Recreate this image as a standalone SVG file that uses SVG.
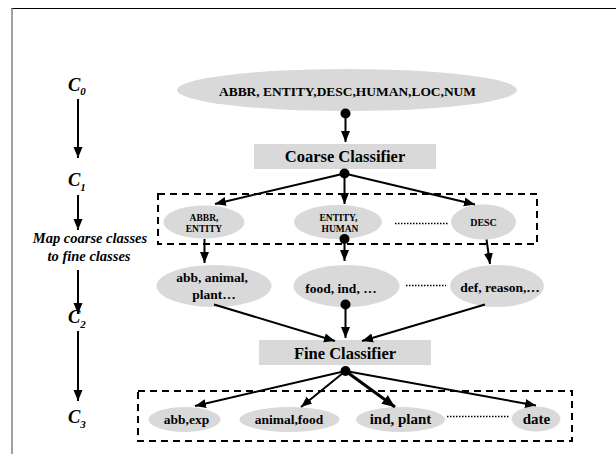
<svg xmlns="http://www.w3.org/2000/svg" width="616" height="454" viewBox="0 0 616 454">
<defs>
<marker id="ah" markerUnits="userSpaceOnUse" markerWidth="12" markerHeight="12" viewBox="0 0 12 12" refX="11" refY="6" orient="auto">
<path d="M0,1.5 L11,6 L0,10.5 Z" fill="#000"/>
</marker>
<marker id="ahL" markerUnits="userSpaceOnUse" markerWidth="14" markerHeight="14" viewBox="0 0 14 14" refX="13" refY="7" orient="auto">
<path d="M0,1.5 L13,7 L0,12.5 Z" fill="#000"/>
</marker>
</defs>
<style>
.el{fill:#d9d9d9;stroke:none}
.bx{fill:#d9d9d9;stroke:none}
text{font-family:'Liberation Serif','Times New Roman',serif}
.t{font-weight:bold;fill:#000;text-anchor:middle}
.ti{font-weight:bold;font-style:italic;fill:#000;text-anchor:middle}
.cs{font-weight:bold;font-style:italic;fill:#000;font-size:18.5px}
.c{stroke:#000;stroke-width:2;fill:none;marker-end:url(#ah)}
.dash{fill:none;stroke:#000;stroke-width:2;stroke-dasharray:7,5}
.dot{stroke:#000;stroke-width:1.5;stroke-dasharray:1.5,1.5;fill:none}
</style>
<rect width="616" height="454" fill="#fff"/>
<line x1="11" y1="8.5" x2="616" y2="8.5" stroke="#000" stroke-width="1"/>
<line x1="12" y1="8" x2="12" y2="454" stroke="#808080" stroke-width="1.5"/>

<g id="frames">
<rect class="dash" x="158" y="194" width="379" height="50"/>
<rect class="dash" x="138" y="391" width="434" height="50"/>
</g>

<g id="stages">
<text class="cs" x="68" y="90.5">C<tspan font-size="11" dy="4.5">0</tspan></text>
<text class="cs" x="68" y="186">C<tspan font-size="11" dy="4.5">1</tspan></text>
<text class="ti" x="90" y="243" font-size="14.5">Map coarse classes</text>
<text class="ti" x="89" y="260.5" font-size="14.5">to fine classes</text>
<text class="cs" x="68" y="323">C<tspan font-size="11" dy="4.5">2</tspan></text>
<text class="cs" x="68" y="423">C<tspan font-size="11" dy="4.5">3</tspan></text>
</g>

<g id="root">
<ellipse class="el" cx="347" cy="90" rx="170" ry="21"/>
<text class="t" x="347.5" y="95.5" font-size="13" textLength="257" lengthAdjust="spacingAndGlyphs">ABBR, ENTITY,DESC,HUMAN,LOC,NUM</text>
</g>
<g id="coarse">
<rect class="bx" x="254" y="144" width="182" height="25"/>
<text class="t" x="345" y="162" font-size="16.5">Coarse Classifier</text>
</g>
<g id="c1a">
<ellipse class="el" cx="204" cy="222" rx="40.5" ry="16.5"/>
<text class="t" x="204" y="221" font-size="9.5">ABBR,</text>
<text class="t" x="204" y="231.5" font-size="9.5">ENTITY</text>
</g>
<g id="c1b">
<ellipse class="el" cx="338" cy="222" rx="44" ry="17"/>
<text class="t" x="338.5" y="221" font-size="9.5">ENTITY,</text>
<text class="t" x="340" y="231.5" font-size="9.5">HUMAN</text>
</g>
<g id="c1c">
<ellipse class="el" cx="483.5" cy="222" rx="32.5" ry="17.5"/>
<text class="t" x="483.5" y="225.5" font-size="10">DESC</text>
</g>
<g id="m1">
<ellipse class="el" cx="214" cy="286" rx="57.5" ry="21"/>
<text class="t" x="212" y="281.5" font-size="13.5">abb, animal,</text>
<text class="t" x="214" y="298.5" font-size="13.5">plant…</text>
</g>
<g id="m2">
<ellipse class="el" cx="346.5" cy="286" rx="53" ry="21"/>
<text class="t" x="341" y="292.5" font-size="13.5">food, ind, …</text>
</g>
<g id="m3">
<ellipse class="el" cx="497" cy="286" rx="47" ry="21"/>
<text class="t" x="500" y="292" font-size="13.5">def, reason,…</text>
</g>
<g id="fine">
<rect class="bx" x="259" y="340" width="172" height="25"/>
<text class="t" x="345" y="359" font-size="16.5">Fine Classifier</text>
</g>
<g id="f1">
<ellipse class="el" cx="184.5" cy="419.5" rx="36" ry="12.5"/>
<text class="t" x="186.5" y="423.5" font-size="13.5">abb,exp</text>
</g>
<g id="f2">
<ellipse class="el" cx="289.5" cy="419.5" rx="50" ry="12.5"/>
<text class="t" x="289" y="423.5" font-size="13.5">animal,food</text>
</g>
<g id="f3">
<ellipse class="el" cx="400.5" cy="419.5" rx="44.5" ry="12.5"/>
<text class="t" x="400.5" y="424" font-size="15">ind, plant</text>
</g>
<g id="f4">
<ellipse class="el" cx="536" cy="419" rx="24.5" ry="12.5"/>
<text class="t" x="536.5" y="424" font-size="15">date</text>
</g>

<g id="connectors">
<line class="c" x1="78" y1="99" x2="78" y2="158"/>
<line class="c" x1="78" y1="195" x2="78" y2="230"/>
<line class="c" x1="78" y1="270" x2="78" y2="314"/>
<line class="c" x1="78" y1="331" x2="78" y2="401"/>

<circle cx="345.5" cy="113.5" r="5" fill="#000"/>
<line class="c" x1="345.5" y1="113.5" x2="345.5" y2="142"/>

<circle cx="344.5" cy="173.5" r="5" fill="#000"/>
<line class="c" x1="344.5" y1="173.5" x2="215" y2="204"/>
<line class="c" x1="344.5" y1="173.5" x2="344.5" y2="204"/>
<line class="c" x1="344.5" y1="173.5" x2="475" y2="204.5"/>
<line class="dot" x1="395" y1="223.5" x2="449" y2="223.5"/>

<line class="c" x1="204.5" y1="239" x2="204.5" y2="263"/>
<circle cx="344.5" cy="239" r="5" fill="#000"/>
<line class="c" x1="344.5" y1="239" x2="344.5" y2="261"/>
<line class="c" x1="486.5" y1="239.5" x2="490" y2="264"/>

<line class="dot" x1="406" y1="285.5" x2="446" y2="285.5"/>
<line class="c" x1="214" y1="304.5" x2="335" y2="341"/>
<circle cx="345.5" cy="304.5" r="5" fill="#000"/>
<line class="c" x1="345.5" y1="304.5" x2="345.5" y2="338"/>
<line class="c" x1="485" y1="304.5" x2="362" y2="341"/>

<circle cx="345.5" cy="371" r="5" fill="#000"/>
<line class="c" x1="345.5" y1="371" x2="195" y2="406"/>
<line class="c" x1="345.5" y1="371" x2="301" y2="407"/>
<line x1="345.5" y1="371" x2="395" y2="407" stroke="#000" stroke-width="3" marker-end="url(#ahL)"/>
<line class="c" x1="345.5" y1="371" x2="536" y2="405.5"/>
<line class="dot" x1="447" y1="416.5" x2="510" y2="416.5"/>
</g>
</svg>
